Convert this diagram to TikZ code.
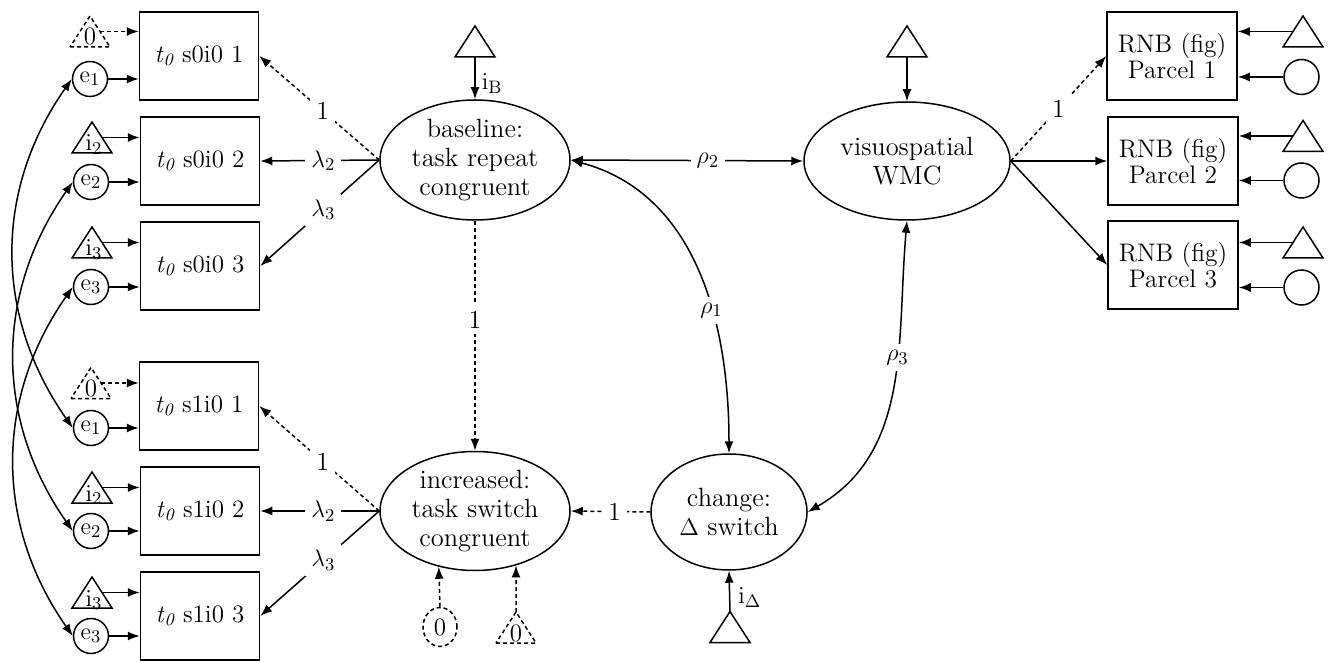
\documentclass[tikz,border=0pt]{standalone}
\usetikzlibrary{arrows.meta,calc,shapes.geometric}
\tikzset{
  tri/.pic={
    \draw[pic actions,line width=0.75pt] (-20,-15.5) -- (20,-15.5) -- (0,15.5) -- cycle;
    \coordinate (-r) at (10,0);
    \coordinate (-l) at (-10,0);
    \coordinate (-t) at (0,15.5);
    \coordinate (-b) at (0,-15.5);
  }
}
\begin{document}
\begin{tikzpicture}[x=0.5pt,y=0.5pt,
  every node/.style={font=\fontsize{12.5}{14.3}\selectfont},
  ln/.style={line width=0.75pt},
  dsh/.style={dash pattern=on 2pt off 1.5pt},
  arr/.style={ln,-{Latex[length=6pt,width=4.5pt]}},
  darr/.style={arr,dsh},
  barr/.style={ln,{Latex[length=6pt,width=4.5pt]}-{Latex[length=6pt,width=4.5pt]}},
  obs/.style={draw,ln,minimum width=59.5pt,minimum height=44pt,inner sep=0pt,align=center},
  rnb/.style={obs,minimum width=65pt,font=\fontsize{12.7}{13}\selectfont},
  lat/.style={draw,ln,ellipse,inner sep=0pt,align=center,font=\fontsize{13.2}{14.3}\selectfont},
  err/.style={draw,ln,circle,minimum size=17.5pt,inner sep=0pt},
  lab/.style={fill=white,inner sep=3pt,font=\fontsize{13}{14}\selectfont},
  tl/.style={anchor=base,inner sep=0pt},
]
\useasboundingbox (0,0) rectangle (1332,-662);

% ---------- left observed (s0i0 / s1i0)
\node[obs] (B01) at (199,-56)  {\textit{t}\textsubscript{\itshape 0} s0i0 1};
\node[obs] (B02) at (200,-161) {\textit{t}\textsubscript{\itshape 0} s0i0 2};
\node[obs] (B03) at (200,-266) {\textit{t}\textsubscript{\itshape 0} s0i0 3};
\node[obs] (B11) at (199,-406) {\textit{t}\textsubscript{\itshape 0} s1i0 1};
\node[obs] (B12) at (200,-511) {\textit{t}\textsubscript{\itshape 0} s1i0 2};
\node[obs] (B13) at (200,-616) {\textit{t}\textsubscript{\itshape 0} s1i0 3};

% intercept triangles
\pic[dsh] (T01) at (90,-31.5) {tri};
\pic (T02) at (92,-137.5) {tri};
\pic (T03) at (92,-242.5) {tri};
\pic[dsh] (T11) at (91,-383) {tri};
\pic (T12) at (92,-487.5) {tri};
\pic (T13) at (92,-592.5) {tri};
\node[tl] (L01) at (90,-45) {0};
\node[tl] (L02) at (94,-151) {$\mathrm{i}_2$};
\node[tl] (L03) at (94,-256) {$\mathrm{i}_3$};
\node[tl] (L11) at (91,-396.5) {0};
\node[tl] (L12) at (94,-501) {$\mathrm{i}_2$};
\node[tl] (L13) at (94,-606) {$\mathrm{i}_3$};

% errors
\node[err] (e01) at (90,-79)  {$\mathrm{e}_1$};
\node[err] (e02) at (91,-182) {$\mathrm{e}_2$};
\node[err] (e03) at (91,-287) {$\mathrm{e}_3$};
\node[err] (e11) at (91,-428) {$\mathrm{e}_1$};
\node[err] (e12) at (91,-531) {$\mathrm{e}_2$};
\node[err] (e13) at (91,-636) {$\mathrm{e}_3$};

% ---------- latents
\node[lat,minimum width=95pt,minimum height=60pt] (base) at (475,-160) {baseline:\\task repeat\\congruent};
\node[lat,minimum width=95pt,minimum height=59.5pt] (inc) at (475,-511) {increased:\\task switch\\congruent};
\node[lat,minimum width=78pt,minimum height=58pt] (chg) at (729,-512) {change:\\$\Delta$ switch};
\node[lat,minimum width=103pt,minimum height=59pt] (wmc) at (907,-161) {visuospatial\\WMC};

\pic (TB) at (475,-41.5) {tri};
\pic (TW) at (907,-41.5) {tri};
\pic (TC) at (730,-627) {tri};
\node[draw,ln,dsh,ellipse,minimum width=17pt,minimum height=19.5pt,inner sep=0pt] (c0) at (440,-627) {0};
\pic[dsh] (T0) at (516,-627.5) {tri};
\node[tl] (L0) at (516,-641) {0};

% ---------- right observed
\node[rnb] (R1) at (1172,-56)  {RNB (fig)\\Parcel 1};
\node[rnb] (R2) at (1173,-161) {RNB (fig)\\Parcel 2};
\node[rnb] (R3) at (1173,-265) {RNB (fig)\\Parcel 3};
\pic (RT1) at (1303,-31.5) {tri};
\pic (RT2) at (1303,-136) {tri};
\pic (RT3) at (1303,-242.5) {tri};
\node[err] (RE1) at (1301.5,-77)    {};
\node[err] (RE2) at (1301.5,-180.5) {};
\node[err] (RE3) at (1301.5,-287.5) {};

% ---------- connectors: left indicators
\foreach \t/\e/\b in {T01/e01/B01,T11/e11/B11}{
  \draw[darr] (\t-r) -- (\t-r -| \b.west);
  \draw[arr] (\e.east) -- (\e.east -| \b.west);
}
\foreach \t/\e/\b in {T02/e02/B02,T03/e03/B03,T12/e12/B12,T13/e13/B13}{
  \draw[arr] (\t-r) -- (\t-r -| \b.west);
  \draw[arr] (\e.east) -- (\e.east -| \b.west);
}
\draw[barr] (e01.west) to[out=235,in=125] (e11.west);
\draw[barr] (e02.west) to[out=235,in=125] (e12.west);
\draw[barr] (e03.west) to[out=235,in=125] (e13.west);

% loadings
\draw[darr] (base.west) -- node[lab,pos=.47]{1} (B01.east);
\draw[arr]  (base.west) -- node[lab,pos=.47]{$\lambda_2$} (B02.east);
\draw[arr]  (base.west) -- node[lab,pos=.47]{$\lambda_3$} (B03.east);
\draw[darr] (inc.west) -- node[lab,pos=.47]{1} (B11.east);
\draw[arr]  (inc.west) -- node[lab,pos=.47]{$\lambda_2$} (B12.east);
\draw[arr]  (inc.west) -- node[lab,pos=.47]{$\lambda_3$} (B13.east);

% means
\draw[arr] (TB-b) -- node[pos=.62,right,inner sep=3pt]{$\mathrm{i}_\mathrm{B}$} (base.north);
\draw[arr] (TW-b) -- (wmc.north);
\draw[arr] (TC-t) -- node[pos=.35,right,inner sep=4pt]{$\mathrm{i}_\Delta$} (chg.south);
\draw[darr] (c0.north) -- (inc.237.5);
\draw[darr] (T0-t) -- (inc.307.7);

% structural
\draw[darr] (base.south) -- node[lab,pos=.43]{1} (inc.north);
\draw[darr] (chg.west) -- node[lab,pos=.45]{1} (inc.east);
\draw[barr] (base.east) -- node[lab,pos=.59]{$\rho_2$} (wmc.west);
\draw[barr] (base.east) to[out=-15,in=90] node[lab,pos=.62]{$\rho_1$} (chg.north);
\draw[barr] (wmc.south) to[out=265,in=30] node[lab,pos=.4]{$\rho_3$} (chg.east);

% right loadings
\draw[darr] (wmc.east) -- node[lab,pos=.5]{1} (R1.west);
\draw[arr]  (wmc.east) -- (R2.west);
\draw[arr]  (wmc.east) -- (R3.west);
\foreach \t/\e/\b in {RT1/RE1/R1,RT2/RE2/R2,RT3/RE3/R3}{
  \draw[arr] (\t-l) -- (\t-l -| \b.east);
  \draw[arr] (\e.west) -- (\e.west -| \b.east);
}
\end{tikzpicture}
\end{document}
